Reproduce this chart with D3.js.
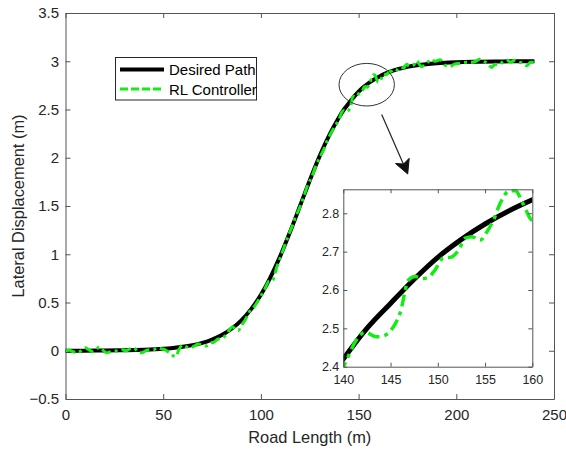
<!DOCTYPE html>
<html>
<head>
<meta charset="utf-8">
<script src="https://cdn.jsdelivr.net/npm/d3@7"></script>
<style>
  html, body { margin: 0; padding: 0; background: #fff; }
  svg { display: block; font-family: "Liberation Sans", Arial, sans-serif; }
</style>
</head>
<body>
<svg id="chart" width="566" height="450"></svg>
<script>
// ---------- data ----------
const desiredX = [0, 10, 20, 30, 40, 50, 55, 60, 65, 70, 75, 80, 85, 90, 95, 100, 105, 110, 115, 120, 125, 130, 135, 140, 142.5, 145, 147.5, 150, 152.5, 155, 157.5, 160, 165, 170, 175, 180, 190, 200, 210, 220, 230, 240];
const desiredY = [0.001, 0.001, 0.002, 0.005, 0.010, 0.020, 0.029, 0.041, 0.058, 0.082, 0.116, 0.163, 0.228, 0.315, 0.431, 0.580, 0.766, 0.986, 1.235, 1.500, 1.765, 2.014, 2.234, 2.420, 2.500, 2.565, 2.628, 2.685, 2.732, 2.772, 2.806, 2.835, 2.884, 2.918, 2.942, 2.959, 2.980, 2.990, 2.995, 2.998, 2.999, 2.999];

const rlX = [0, 2, 4, 6, 8, 10, 12, 14, 16, 17.5, 19, 21, 23, 25, 27, 29, 31, 33, 35, 37, 39, 41, 43, 45, 47, 49, 51, 53, 55, 56.5, 58, 60, 62, 64, 66, 68, 70, 72, 74, 76, 78, 80, 82, 84, 85.5, 87, 88.5, 90, 92, 94, 96, 98, 100, 102, 104, 106, 108, 110, 112, 114, 116, 118, 120, 122, 124, 126, 128, 130, 132, 134, 136, 138, 140, 141.4, 142.3, 143.5, 144.2, 145.3, 146, 146.9, 147.6, 148.4, 149, 149.7, 150.6, 151.3, 152.2, 152.9, 153.6, 154.5, 155.2, 155.9, 156.6, 157.6, 158.2, 159, 160, 161, 162.6, 164, 165.2, 167, 168, 170, 171.5, 173, 174.6, 176, 178, 179.7, 181, 182.3, 184, 186, 187.4, 189, 191.7, 194.2, 196.8, 199, 202, 205, 208, 210, 212, 214, 216.4, 218, 220, 222, 224, 226, 228, 229.7, 232, 234, 236, 238, 240];
const rlY = [0.00, 0.005, -0.01, -0.02, 0.00, 0.03, 0.01, -0.01, 0.02, 0.04, 0.01, -0.02, -0.01, 0.00, -0.005, 0.01, 0.00, 0.02, 0.03, -0.01, -0.02, 0.00, 0.01, 0.01, 0.03, 0.02, 0.01, -0.02, -0.05, -0.06, 0.01, 0.06, 0.04, 0.03, 0.05, 0.07, 0.06, 0.05, 0.08, 0.09, 0.12, 0.13, 0.16, 0.22, 0.25, 0.22, 0.21, 0.26, 0.32, 0.40, 0.44, 0.50, 0.57, 0.64, 0.72, 0.73, 0.86, 0.97, 1.08, 1.19, 1.29, 1.40, 1.49, 1.60, 1.72, 1.80, 1.91, 2.00, 2.08, 2.18, 2.26, 2.33, 2.40, 2.47, 2.49, 2.478, 2.48, 2.504, 2.539, 2.626, 2.635, 2.630, 2.633, 2.652, 2.684, 2.685, 2.704, 2.735, 2.739, 2.730, 2.752, 2.783, 2.826, 2.859, 2.859, 2.826, 2.783, 2.79, 2.867, 2.86, 2.884, 2.90, 2.92, 2.91, 2.94, 2.93, 2.97, 2.95, 2.96, 3.005, 2.97, 2.943, 2.97, 3.00, 3.02, 3.00, 3.015, 2.96, 2.946, 2.97, 2.98, 2.99, 2.99, 3.00, 3.02, 3.00, 2.97, 2.936, 2.97, 2.96, 3.00, 3.01, 2.99, 3.01, 2.99, 2.98, 2.953, 2.99, 2.99];

const xTicks = [0, 50, 100, 150, 200, 250];
const yTicks = [-0.5, 0, 0.5, 1, 1.5, 2, 2.5, 3, 3.5];
const insetXTicks = [140, 145, 150, 155, 160];
const insetYTicks = [2.4, 2.5, 2.6, 2.7, 2.8];
const seriesNames = ["Desired Path", "RL Controller"];

// ---------- setup ----------
const svg = d3.select("#chart");
const axisColor = "#555";
const textColor = "#262626";
const green = "#11ee11";
const dashRL = "10,4,3,4";

const desired = desiredX.map((x, i) => ({x, y: desiredY[i]}));
const rl = rlX.map((x, i) => ({x, y: rlY[i]}));

// main scales
const x = d3.scaleLinear().domain([0, 250]).range([65.5, 554]);
const y = d3.scaleLinear().domain([-0.5, 3.5]).range([399, 13]);

function styleAxis(g, fs) {
  g.selectAll(".domain").attr("stroke", axisColor).attr("stroke-width", 1);
  g.selectAll(".tick line").attr("stroke", axisColor).attr("stroke-width", 1);
  g.selectAll(".tick text").attr("fill", textColor).attr("font-size", fs + "px")
    .attr("font-family", "Liberation Sans, Arial, sans-serif");
}

// main axes (box with inward ticks)
svg.append("g").attr("transform", `translate(0,${y(-0.5)})`)
  .call(d3.axisBottom(x).tickValues(xTicks).tickSize(-5).tickSizeOuter(0).tickPadding(10).tickFormat(d3.format("d")))
  .call(g => styleAxis(g, 15));
svg.append("g").attr("transform", `translate(0,${y(3.5)})`)
  .call(d3.axisTop(x).tickValues(xTicks).tickSize(-5).tickSizeOuter(0).tickFormat(""))
  .call(g => styleAxis(g, 15));
svg.append("g").attr("transform", `translate(${x(0)},0)`)
  .call(d3.axisLeft(y).tickValues(yTicks).tickSize(-5).tickSizeOuter(0).tickPadding(6.5).tickFormat(d => d3.format("")(d)))
  .call(g => styleAxis(g, 15));
svg.append("g").attr("transform", `translate(${x(250)},0)`)
  .call(d3.axisRight(y).tickValues(yTicks).tickSize(-5).tickSizeOuter(0).tickFormat(""))
  .call(g => styleAxis(g, 15));

// axis labels
svg.append("text").attr("x", (x(0) + x(250)) / 2).attr("y", 442.5)
  .attr("text-anchor", "middle").attr("font-size", "16.4px").attr("fill", textColor)
  .text("Road Length (m)");
svg.append("text").attr("transform", `translate(24,${(y(-0.5) + y(3.5)) / 2}) rotate(-90)`)
  .attr("text-anchor", "middle").attr("font-size", "16.4px").attr("fill", textColor)
  .text("Lateral Displacement (m)");

// main lines
const line = d3.line().x(d => x(d.x)).y(d => y(d.y)).curve(d3.curveMonotoneX);
svg.append("path").datum(desired).attr("d", line)
  .attr("fill", "none").attr("stroke", "#000").attr("stroke-width", 4);
svg.append("path").datum(rl).attr("d", line)
  .attr("fill", "none").attr("stroke", green).attr("stroke-width", 3)
  .attr("stroke-dasharray", dashRL);

// legend
const leg = svg.append("g");
leg.append("rect").attr("x", 115.5).attr("y", 57.5).attr("width", 141).attr("height", 42.5)
  .attr("fill", "#fff").attr("stroke", textColor).attr("stroke-width", 1);
leg.append("line").attr("x1", 120).attr("x2", 164).attr("y1", 69.5).attr("y2", 69.5)
  .attr("stroke", "#000").attr("stroke-width", 4);
leg.append("line").attr("x1", 120).attr("x2", 164).attr("y1", 89).attr("y2", 89)
  .attr("stroke", green).attr("stroke-width", 3).attr("stroke-dasharray", "8,3");
leg.append("text").attr("x", 169).attr("y", 75).attr("font-size", "15px").attr("fill", "#000").text(seriesNames[0]);
leg.append("text").attr("x", 169).attr("y", 94.5).attr("font-size", "15px").attr("fill", "#000").text(seriesNames[1]);

// ellipse and arrow
svg.append("ellipse").attr("cx", 366.7).attr("cy", 84.7).attr("rx", 27.7).attr("ry", 21.3)
  .attr("fill", "none").attr("stroke", "#333").attr("stroke-width", 1);
svg.append("line").attr("x1", 381.7).attr("y1", 114.5).attr("x2", 406).attr("y2", 170)
  .attr("stroke", "#222").attr("stroke-width", 1.2);
svg.append("path").attr("d", "M407.7,174 L395.5,163.5 L403.5,164 L409.2,158.3 Z")
  .attr("fill", "#111").attr("stroke", "#111").attr("stroke-width", 1);

// ---------- inset ----------
const xi = d3.scaleLinear().domain([140, 160]).range([343.3, 532.3]);
const yi = d3.scaleLinear().domain([2.4, 2.8625]).range([366.7, 189.3]);

svg.append("rect").attr("x", xi(140)).attr("y", yi(2.8625))
  .attr("width", xi(160) - xi(140)).attr("height", yi(2.4) - yi(2.8625)).attr("fill", "#fff");

svg.append("clipPath").attr("id", "insetClip").append("rect")
  .attr("x", xi(140)).attr("y", yi(2.8625))
  .attr("width", xi(160) - xi(140)).attr("height", yi(2.4) - yi(2.8625));

const lineI = d3.line().x(d => xi(d.x)).y(d => yi(d.y)).curve(d3.curveMonotoneX);
const ig = svg.append("g").attr("clip-path", "url(#insetClip)");
ig.append("path").datum(desired.filter(d => d.x >= 135 && d.x <= 165)).attr("d", lineI)
  .attr("fill", "none").attr("stroke", "#000").attr("stroke-width", 5);
ig.append("path").datum(rl.filter(d => d.x >= 138 && d.x <= 162)).attr("d", lineI)
  .attr("fill", "none").attr("stroke", green).attr("stroke-width", 3.5)
  .attr("stroke-dasharray", "12,5,4,5");

svg.append("g").attr("transform", `translate(0,${yi(2.4)})`)
  .call(d3.axisBottom(xi).tickValues(insetXTicks).tickSize(-4).tickSizeOuter(0).tickPadding(8).tickFormat(d3.format("d")))
  .call(g => styleAxis(g, 12.5));
svg.append("g").attr("transform", `translate(0,${yi(2.8625)})`)
  .call(d3.axisTop(xi).tickValues(insetXTicks).tickSize(-4).tickSizeOuter(0).tickFormat(""))
  .call(g => styleAxis(g, 12.5));
svg.append("g").attr("transform", `translate(${xi(140)},0)`)
  .call(d3.axisLeft(yi).tickValues(insetYTicks).tickSize(-4).tickSizeOuter(0).tickPadding(4).tickFormat(d3.format(".1f")))
  .call(g => styleAxis(g, 12.5));
svg.append("g").attr("transform", `translate(${xi(160)},0)`)
  .call(d3.axisRight(yi).tickValues(insetYTicks).tickSize(-4).tickSizeOuter(0).tickFormat(""))
  .call(g => styleAxis(g, 12.5));
</script>
</body>
</html>
